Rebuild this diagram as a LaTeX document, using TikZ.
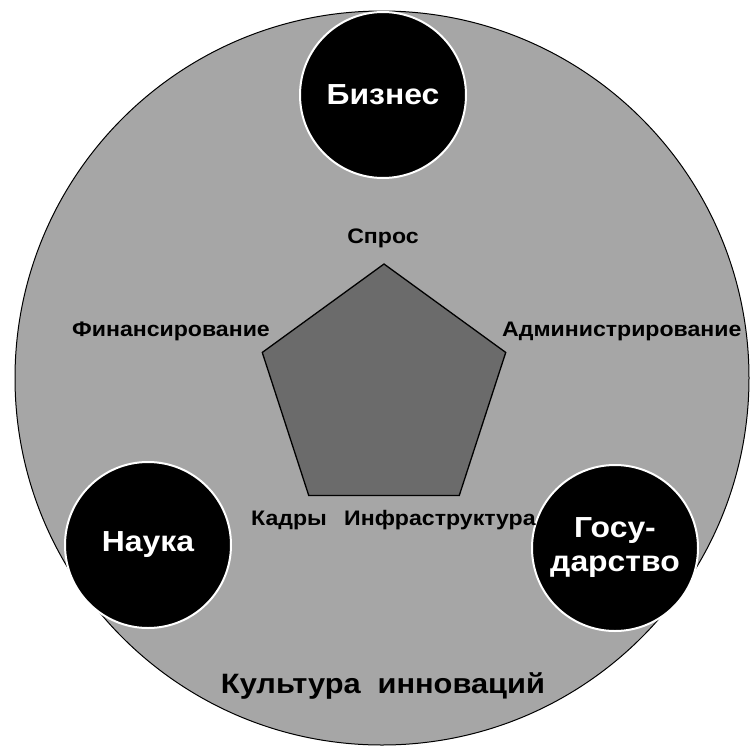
\documentclass[tikz,border=0pt]{standalone}
\usepackage{fontspec}
\setmainfont{Liberation Sans}
\newfontfamily\widesans[FakeStretch=1.1]{Liberation Sans}
\usetikzlibrary{shapes.geometric}

\begin{document}
\begin{tikzpicture}[x=1pt,y=-1pt,font=\widesans\bfseries\fontsize{21}{24}\selectfont,
  actor/.style={circle,minimum size=166pt,inner sep=0pt,fill=black,draw=white,line width=2pt,text=white,align=center,font=\widesans\bfseries\fontsize{29}{34}\selectfont},
  lbl/.style={inner sep=1pt,text=black}]
\useasboundingbox (0,0) rectangle (750,745);
\path[fill=black!35,draw=black,line width=1pt] (382,378) circle[radius=367pt];
\node[regular polygon,regular polygon sides=5,minimum size=256pt,inner sep=0pt,fill=black!58,draw=black,line width=1.3pt] (core) at (384,392) {};
\node[actor] (biz) at (383,95) {Бизнес};
\node[actor] (nauka) at (148,545) {Наука};
\node[actor] (gos) at (615,548) {Госу-\\дарство};
\node[lbl] (spros) at (383,238) {Спрос};
\node[lbl,anchor=east] (fin) at (271,331) {Финансирование};
\node[lbl,anchor=west] (adm) at (501,331) {Администрирование};
\node[lbl,anchor=west] (kadry) at (250,520) {Кадры};
\node[lbl,anchor=west] (infra) at (343,520) {Инфраструктура};
\node[lbl,font=\widesans\bfseries\fontsize{28}{32}\selectfont] (kult) at (383,686) {Культура\hspace{0.6em}инноваций};
\end{tikzpicture}
\end{document}
